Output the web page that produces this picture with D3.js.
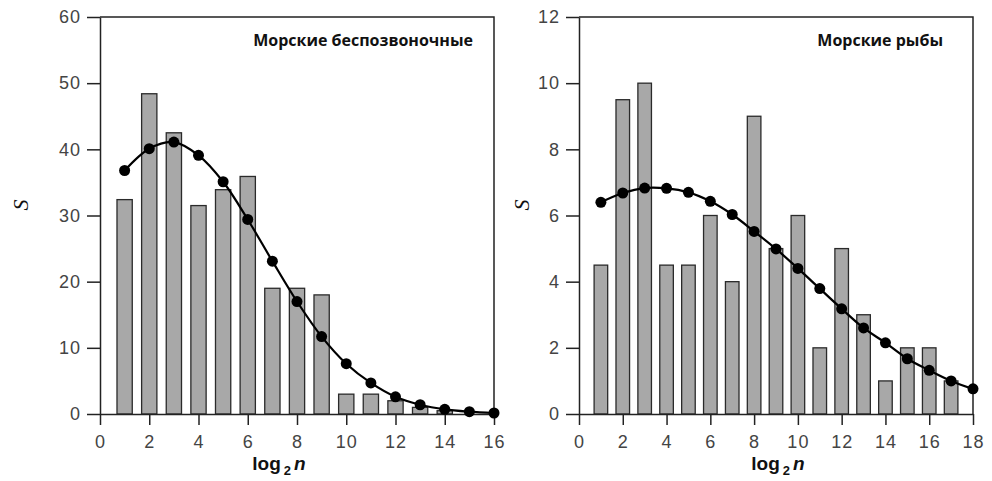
<!DOCTYPE html>
<html>
<head>
<meta charset="utf-8">
<script src="https://cdn.jsdelivr.net/npm/d3@7"></script>
<style>
  body { margin: 0; background: #fff; }
  svg { display: block; }
</style>
</head>
<body>
<div id="chart"></div>
<script>
// Data
const invBarX = [1, 2, 3, 4, 5, 6, 7, 8, 9, 10, 11, 12, 13, 14];
const invBarS = [32.4, 48.4, 42.5, 31.5, 33.9, 35.9, 19, 19, 18, 3, 3, 2, 1, 0.5];
const invFitX = [1, 2, 3, 4, 5, 6, 7, 8, 9, 10, 11, 12, 13, 14, 15, 16];
const invFitS = [36.8, 40.1, 41.1, 39.1, 35.1, 29.4, 23.1, 17.0, 11.7, 7.6, 4.7, 2.6, 1.4, 0.7, 0.35, 0.15];
const invXTicks = [0, 2, 4, 6, 8, 10, 12, 14, 16];
const invYTicks = [0, 10, 20, 30, 40, 50, 60];

const fishBarX = [1, 2, 3, 4, 5, 6, 7, 8, 9, 10, 11, 12, 13, 14, 15, 16, 17];
const fishBarS = [4.5, 9.5, 10, 4.5, 4.5, 6, 4, 9, 5, 6, 2, 5, 3, 1, 2, 2, 1];
const fishFitX = [1, 2, 3, 4, 5, 6, 7, 8, 9, 10, 11, 12, 13, 14, 15, 16, 17, 18];
const fishFitS = [6.4, 6.68, 6.83, 6.82, 6.7, 6.43, 6.03, 5.52, 4.99, 4.4, 3.79, 3.18, 2.6, 2.15, 1.67, 1.32, 1.0, 0.76];
const fishXTicks = [0, 2, 4, 6, 8, 10, 12, 14, 16, 18];
const fishYTicks = [0, 2, 4, 6, 8, 10, 12];

const W = 992, H = 481;

const svg = d3.select("#chart").append("svg")
    .attr("width", W)
    .attr("height", H);

function drawPanel(p) {
    const g = svg.append("g");

    const x = d3.scaleLinear().domain(p.xDomain).range([p.left, p.right]);
    const y = d3.scaleLinear().domain(p.yDomain).range([p.bottom, p.top]);
    const unit = x(1) - x(0);
    const barW = unit * 0.62;

    // Bars
    g.selectAll("rect.bar")
        .data(p.barX.map((d, i) => ({x: d, s: p.barS[i]})))
        .enter().append("rect")
            .attr("class", "bar")
            .attr("x", d => x(d.x) - barW / 2)
            .attr("y", d => y(d.s))
            .attr("width", barW)
            .attr("height", d => y(0) - y(d.s))
            .attr("fill", "#a8a8a8")
            .attr("stroke", "#2a2a2a")
            .attr("stroke-width", 1.3);

    // Frame: top and right sides
    g.append("path")
        .attr("d", `M${p.left},${p.top}H${p.right}V${p.bottom}`)
        .attr("fill", "none")
        .attr("stroke", "#222")
        .attr("stroke-width", 1.5);

    // Axes
    const xAxis = g.append("g")
        .attr("transform", `translate(0, ${p.bottom})`)
        .call(d3.axisBottom(x).tickValues(p.xTicks).tickSize(11).tickPadding(10).tickSizeOuter(0));
    const yAxis = g.append("g")
        .attr("transform", `translate(${p.left}, 0)`)
        .call(d3.axisLeft(y).tickValues(p.yTicks).tickSize(13).tickPadding(6).tickSizeOuter(0));

    [xAxis, yAxis].forEach(a => {
        a.select(".domain").attr("stroke", "#222").attr("stroke-width", 1.5);
        a.selectAll(".tick line").attr("stroke", "#222").attr("stroke-width", 1.5);
        a.selectAll(".tick text")
            .attr("fill", "#444")
            .style("font-family", "'Liberation Sans', Arial, sans-serif")
            .style("font-size", "18px")
            .style("letter-spacing", "1px");
    });

    // Fitted curve
    const line = d3.line()
        .x(d => x(d.x))
        .y(d => y(d.s))
        .curve(d3.curveCatmullRom.alpha(0.5));
    const fit = p.fitX.map((d, i) => ({x: d, s: p.fitS[i]}));
    g.append("path")
        .datum(fit)
        .attr("d", line)
        .attr("fill", "none")
        .attr("stroke", "#000")
        .attr("stroke-width", 2.2);
    g.selectAll("circle.pt")
        .data(fit)
        .enter().append("circle")
            .attr("class", "pt")
            .attr("cx", d => x(d.x))
            .attr("cy", d => y(d.s))
            .attr("r", 5.5)
            .attr("fill", "#000");

    // Title
    g.append("text")
        .attr("x", p.titleX)
        .attr("y", 46)
        .attr("text-anchor", "end")
        .style("font-family", "'Open Sans', sans-serif")
        .style("font-weight", "bold")
        .style("font-size", "16px")
        .attr("fill", "#111")
        .text(p.title);

    // Y label
    g.append("text")
        .attr("transform", `translate(${p.sX}, 205) rotate(-90)`)
        .attr("text-anchor", "middle")
        .attr("dy", "0.35em")
        .style("font-family", "'Liberation Serif', 'Times New Roman', serif")
        .style("font-style", "italic")
        .style("font-size", "22px")
        .attr("fill", "#111")
        .text("S");

    // X label: log2 n
    const xl = g.append("text")
        .attr("x", p.xLabelX)
        .attr("y", 470)
        .attr("text-anchor", "middle")
        .style("font-family", "'Liberation Sans', Arial, sans-serif")
        .style("font-weight", "bold")
        .style("font-size", "19px")
        .attr("fill", "#111");
    xl.append("tspan").text("log");
    xl.append("tspan").attr("dx", 3).attr("dy", 5).style("font-size", "13px").text("2");
    xl.append("tspan").attr("dx", 3).attr("dy", -5).style("font-style", "italic").text("n");
}

drawPanel({
    left: 100, right: 494, top: 17, bottom: 414,
    xDomain: [0, 16], yDomain: [0, 60],
    barX: invBarX, barS: invBarS, fitX: invFitX, fitS: invFitS,
    xTicks: invXTicks, yTicks: invYTicks,
    title: "Морские беспозвоночные", titleX: 473,
    sX: 20, xLabelX: 279
});

drawPanel({
    left: 579, right: 973, top: 17, bottom: 414,
    xDomain: [0, 18], yDomain: [0, 12],
    barX: fishBarX, barS: fishBarS, fitX: fishFitX, fitS: fishFitS,
    xTicks: fishXTicks, yTicks: fishYTicks,
    title: "Морские рыбы", titleX: 943,
    sX: 521, xLabelX: 778
});
</script>
</body>
</html>
